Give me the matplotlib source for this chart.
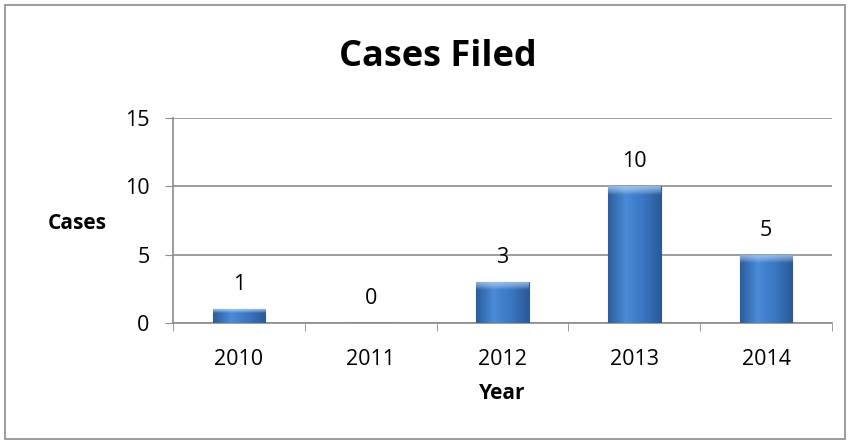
import numpy as np
import matplotlib.pyplot as plt
from matplotlib.colors import LinearSegmentedColormap
from matplotlib.patches import Rectangle

years = ['2010', '2011', '2012', '2013', '2014']
cases = [1, 0, 3, 10, 5]
yticks = [0, 5, 10, 15]

plt.rcParams['font.family'] = ['Open Sans', 'DejaVu Sans']

fig = plt.figure(figsize=(8.48, 4.44), dpi=100)
fig.patches.append(Rectangle((5 / 848, 5 / 444), 840 / 848, 434 / 444, transform=fig.transFigure,
                             fill=False, edgecolor='#8c8c8c', linewidth=1.2))

ax = fig.add_axes([173 / 848, 1 - 323 / 444, 659 / 848, 205 / 444])
x = np.arange(len(years))
bars = ax.bar(x, cases, width=0.4, color='#3c74bd', edgecolor='#2b5a97', linewidth=0.8, zorder=3)

# horizontal gradient on each bar, like Excel's shaded bars
cmap = LinearSegmentedColormap.from_list('b', ['#2c5d9e', '#4a8ad6', '#3a76c2', '#2b5a98'])
grad = np.linspace(0, 1, 64).reshape(1, -1)
for b in bars:
    if b.get_height() <= 0:
        continue
    x0, y0 = b.get_x(), b.get_y()
    w, h = b.get_width(), b.get_height()
    im = ax.imshow(grad, extent=[x0, x0 + w, y0, y0 + h], aspect='auto', cmap=cmap, zorder=3.5)
    im.set_clip_path(b)
    top = min(0.6, h * 0.25)
    hl = ax.imshow(np.linspace(1, 0, 32).reshape(-1, 1), extent=[x0, x0 + w, y0 + h - top, y0 + h],
                   aspect='auto', cmap=LinearSegmentedColormap.from_list('h', [(1, 1, 1, 0), (0.7, 0.85, 1, 0.75)]),
                   zorder=3.6)
    hl.set_clip_path(b)

for xi, v in zip(x, cases):
    ax.annotate(str(v), (xi, v), xytext=(0, 10), textcoords='offset points', ha='center', va='bottom',
                fontsize=15.5, color='black')

ax.set_xlim(-0.5, len(years) - 0.5)
ax.set_ylim(0, 15)
ax.set_yticks(yticks)
ax.set_xticks(x)
ax.set_xticklabels(years)
ax.set_xticks(np.arange(-0.5, len(years), 1), minor=True)
ax.tick_params(axis='x', which='major', length=0, pad=19, labelsize=15.5)
ax.tick_params(axis='x', which='minor', length=6, color='#8c8c8c', direction='out')
ax.tick_params(axis='y', length=6, color='#8c8c8c', direction='out', labelsize=15.5, pad=11)
ax.grid(axis='y', color='#8c8c8c', linewidth=1.2, zorder=0)
ax.set_axisbelow(True)
for s in ['top', 'right']:
    ax.spines[s].set_visible(False)
for s in ['left', 'bottom']:
    ax.spines[s].set_color('#8c8c8c')
    ax.spines[s].set_linewidth(1.2)

ax.set_xlabel('Year', fontsize=15, fontweight='bold', labelpad=9)
ax.set_ylabel('Cases', fontsize=15, fontweight='bold', rotation=0, ha='center', va='center')
ax.yaxis.set_label_coords(-0.145, 0.485)
fig.text(438 / 848, 1 - 57 / 444, 'Cases Filed', ha='center', va='center', fontsize=26, fontweight='bold')

fig.savefig('out.png', dpi=100)
